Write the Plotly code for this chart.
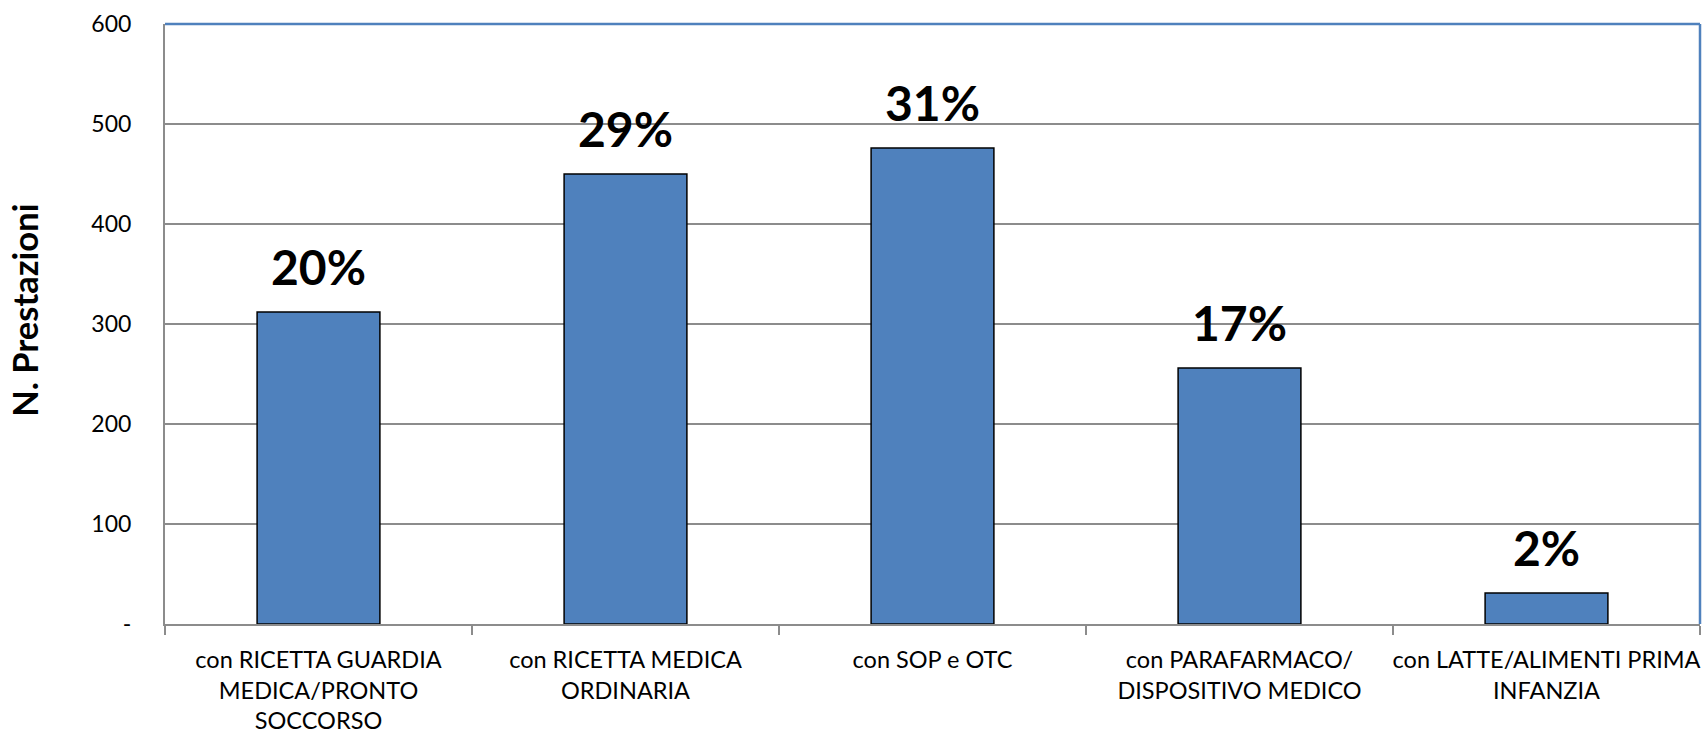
import plotly.graph_objects as go

categories = [
    "con RICETTA GUARDIA<br>MEDICA/PRONTO<br>SOCCORSO",
    "con RICETTA MEDICA<br>ORDINARIA",
    "con SOP e OTC",
    "con PARAFARMACO/<br>DISPOSITIVO MEDICO",
    "con LATTE/ALIMENTI PRIMA<br>INFANZIA",
]
values = [312, 450, 476, 256, 31]
pct_labels = ["20%", "29%", "31%", "17%", "2%"]
y_tickvals = [0, 100, 200, 300, 400, 500, 600]
y_ticktext = ["-", "100", "200", "300", "400", "500", "600"]
y_title = "N. Prestazioni"

FONT = "Lato, 'Open Sans', sans-serif"
BLUE = "#4F81BD"
GRID = "#8C8C8C"

fig = go.Figure()
fig.add_trace(go.Bar(
    x=categories, y=values,
    marker=dict(color=BLUE, line=dict(color="#000000", width=1.5)),
    hoverinfo="skip",
))

for c, v, t in zip(categories, values, pct_labels):
    fig.add_annotation(
        x=c, y=v, text="<b>%s</b>" % t, showarrow=False,
        yanchor="bottom", yshift=15,
        font=dict(family=FONT, size=48, color="#000000"),
    )

# y-axis title as rotated annotation
fig.add_annotation(
    xref="paper", yref="paper", x=0, y=0.522, xshift=-140,
    text="<b>%s</b>" % y_title, textangle=-90, showarrow=False,
    xanchor="center", yanchor="middle",
    font=dict(family=FONT, size=34.5, color="#000000"),
)

fig.update_layout(
    width=1704, height=735,
    paper_bgcolor="white", plot_bgcolor="white",
    margin=dict(l=165, r=4, t=24, b=111),
    bargap=0.6,
    showlegend=False,
    font=dict(family=FONT, color="#000000"),
    xaxis=dict(
        automargin=False,
        tickangle=0,
        showgrid=False, showline=True, linecolor=GRID, linewidth=2,
        ticks="outside", tickson="boundaries", ticklen=9, tickcolor=GRID, tickwidth=2,
        tickfont=dict(family=FONT, size=23.5, color="#000000"),
        ticklabelstandoff=14,
    ),
    yaxis=dict(
        automargin=False,
        range=[0, 600], tickmode="array", tickvals=y_tickvals, ticktext=y_ticktext,
        showgrid=True, gridcolor=GRID, gridwidth=1.5,
        showline=True, linecolor=GRID, linewidth=2,
        zeroline=False,
        tickfont=dict(family=FONT, size=23, color="#000000"),
        ticklabelstandoff=27,
    ),
)

# blue plot-area border on top and right
fig.add_shape(type="line", xref="paper", yref="paper", x0=0, x1=1, y0=1, y1=1,
              line=dict(color=BLUE, width=2.5))
fig.add_shape(type="line", xref="paper", yref="paper", x0=1, x1=1, y0=0, y1=1,
              line=dict(color=BLUE, width=2.5))

fig.write_html("out.html", config={"displayModeBar": False},
               post_script="document.body.style.margin='0';")
